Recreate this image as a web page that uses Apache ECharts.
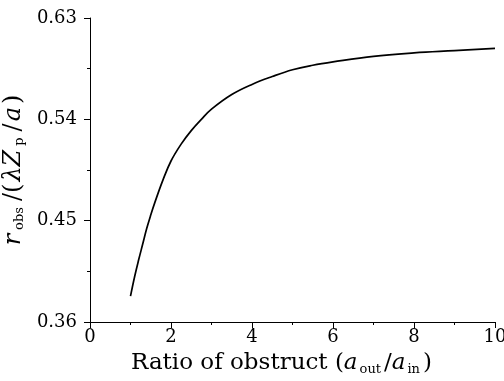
<!DOCTYPE html>
<html><head><meta charset="utf-8">
<script src="https://cdn.jsdelivr.net/npm/echarts@6/dist/echarts.min.js"></script>
<style>html,body{margin:0;padding:0;background:#fff}#c{width:504px;height:381px}</style>
</head><body><div id="c"></div>
<script>
const ratio = [1.0, 1.1, 1.2, 1.3, 1.4, 1.5, 1.6, 1.8, 2.0, 2.25, 2.5, 2.75, 3.0, 3.5, 4.0, 4.5, 5.0, 5.5, 6.0, 7.0, 8.0, 9.0, 10.0];
const robs  = [0.383, 0.400, 0.415, 0.429, 0.443, 0.455, 0.466, 0.486, 0.503, 0.518, 0.530, 0.540, 0.549, 0.562, 0.571, 0.578, 0.584, 0.588, 0.591, 0.596, 0.599, 0.601, 0.603];
const yTicks = [0.36, 0.45, 0.54, 0.63];
const xTicks = [0, 2, 4, 6, 8, 10];

const FONT = 'DejaVu Serif';
const richX = {
  n: {fontFamily: FONT, fontSize: 23, color: '#000'},
  e: {fontFamily: FONT, fontSize: 23, color: '#000', padding: [0, 22, 0, 0]},
  i: {fontFamily: FONT, fontSize: 23, fontStyle: 'italic', color: '#000'},
  s: {fontFamily: FONT, fontSize: 13, color: '#000', verticalAlign: 'bottom', padding: [12, 3, 0, 2]}
};
const richY = {
  n: {fontFamily: FONT, fontSize: 24, color: '#000', padding: [0, 1, 0, 1]},
  i: {fontFamily: FONT, fontSize: 24, fontStyle: 'italic', color: '#000', padding: [0, 2, 0, 1]},
  s: {fontFamily: FONT, fontSize: 13, color: '#000', verticalAlign: 'bottom', padding: [12, 5, 0, 2]}
};
const chart = echarts.init(document.getElementById('c'), null, {renderer: 'canvas'});
chart.setOption({
  animation: false,
  backgroundColor: '#fff',
  grid: {left: 90, right: 9, top: 18, bottom: 59, containLabel: false, outerBoundsMode: 'none'},
  xAxis: {
    type: 'value', min: xTicks[0], max: xTicks[xTicks.length-1], interval: 2,
    axisLine: {show: true, onZero: false, lineStyle: {color: '#000', width: 1}},
    axisTick: {show: true, length: 6, lineStyle: {color: '#000'}},
    minorTick: {show: true, splitNumber: 2, length: 3, lineStyle: {color: '#000'}},
    splitLine: {show: false},
    axisLabel: {color: '#000', fontFamily: FONT, fontSize: 18, margin: 6},
    name: '{n|Ratio of obstruct (}{i|a}{s|out}{n|/}{i|a}{s|in}{e|)}',
    nameLocation: 'middle', nameGap: 29,
    nameTextStyle: {rich: richX}
  },
  yAxis: {
    type: 'value', min: yTicks[0], max: yTicks[yTicks.length-1], interval: 0.09,
    axisLine: {show: true, onZero: false, lineStyle: {color: '#000', width: 1}},
    axisTick: {show: true, length: 6, lineStyle: {color: '#000'}},
    minorTick: {show: true, splitNumber: 2, length: 3, lineStyle: {color: '#000'}},
    splitLine: {show: false},
    axisLabel: {color: '#000', fontFamily: FONT, fontSize: 18, margin: 13,
      formatter: v => v.toFixed(2)},
    name: '{i|r}{s|obs}{n|/(}{i|λZ}{s|p}{n|/}{i|a}{n|)}',
    nameLocation: 'middle', nameGap: 53, nameRotate: 90,
    nameTextStyle: {rich: richY}
  },
  series: [{
    type: 'line', smooth: 0.4, showSymbol: false,
    data: ratio.map((x, i) => [x, robs[i]]),
    lineStyle: {color: '#000', width: 1.7}
  }]
});
</script></body></html>
